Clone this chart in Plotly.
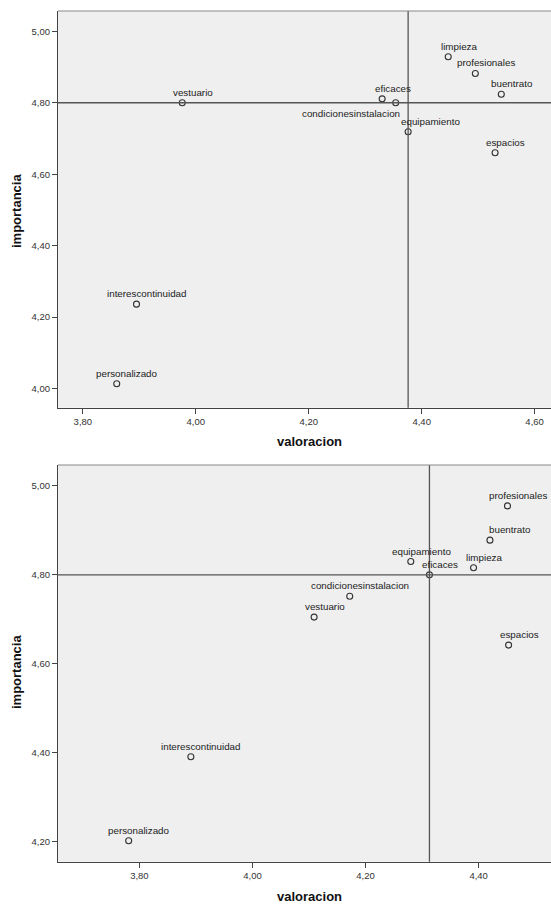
import plotly.graph_objects as go

# ---------------- data ----------------
names = ["vestuario", "eficaces", "condicionesinstalacion", "equipamiento", "limpieza",
         "profesionales", "buentrato", "espacios", "interescontinuidad", "personalizado"]

top_valoracion = [3.976, 4.330, 4.354, 4.376, 4.447, 4.495, 4.541, 4.530, 3.895, 3.860]
top_importancia = [4.800, 4.811, 4.800, 4.719, 4.929, 4.882, 4.824, 4.660, 4.236, 4.013]
top_ref_x = 4.376
top_ref_y = 4.80

bot_valoracion = [4.109, 4.313, 4.172, 4.280, 4.391, 4.451, 4.420, 4.453, 3.891, 3.781]
bot_importancia = [4.705, 4.800, 4.752, 4.830, 4.816, 4.955, 4.878, 4.642, 4.391, 4.202]
bot_ref_x = 4.313
bot_ref_y = 4.80

top_xticks = [3.8, 4.0, 4.2, 4.4, 4.6]
top_yticks = [4.0, 4.2, 4.4, 4.6, 4.8, 5.0]
bot_xticks = [3.8, 4.0, 4.2, 4.4]
bot_yticks = [4.2, 4.4, 4.6, 4.8, 5.0]

x_title = "valoracion"
y_title = "importancia"

# ---------------- style ----------------
W, H = 551, 904
FONT = "Liberation Sans, Arial, sans-serif"
AX = "#444444"
MK = "#333333"

# label placement (pixel offsets) -- default above-right a bit
default_pos = dict(xshift=10.5, yshift=3, xanchor="center", yanchor="bottom")
top_pos = {
    "equipamiento": dict(xshift=22, yshift=3, xanchor="center", yanchor="bottom"),
    "condicionesinstalacion": dict(xshift=6, yshift=-3, xanchor="right", yanchor="top"),
}
bot_pos = {
    "buentrato": dict(xshift=20.5, yshift=3, xanchor="center", yanchor="bottom"),
}

fig = go.Figure()

fig.add_trace(go.Scatter(x=top_valoracion, y=top_importancia, mode="markers",
                         xaxis="x", yaxis="y", showlegend=False, hoverinfo="skip",
                         marker=dict(symbol="circle-open", size=6, color=MK,
                                     line=dict(width=1.1, color=MK))))
fig.add_trace(go.Scatter(x=bot_valoracion, y=bot_importancia, mode="markers",
                         xaxis="x2", yaxis="y2", showlegend=False, hoverinfo="skip",
                         marker=dict(symbol="circle-open", size=6, color=MK,
                                     line=dict(width=1.1, color=MK))))

annotations = []
for nm, xv, yv in zip(names, top_valoracion, top_importancia):
    p = top_pos.get(nm, default_pos)
    annotations.append(dict(x=xv, y=yv, xref="x", yref="y", text=nm, showarrow=False,
                            font=dict(family=FONT, size=9.8, color="#222222"), **p))
for nm, xv, yv in zip(names, bot_valoracion, bot_importancia):
    p = bot_pos.get(nm, default_pos)
    annotations.append(dict(x=xv, y=yv, xref="x2", yref="y2", text=nm, showarrow=False,
                            font=dict(family=FONT, size=9.8, color="#222222"), **p))

title_font = dict(family=FONT, size=13, color="#111111")
# axis titles
annotations += [
    dict(text="<b>%s</b>" % x_title, x=309 / W, y=1 - 442 / H, xref="paper", yref="paper",
         showarrow=False, xanchor="center", yanchor="middle", font=title_font),
    dict(text="<b>%s</b>" % x_title, x=309 / W, y=1 - 896 / H, xref="paper", yref="paper",
         showarrow=False, xanchor="center", yanchor="middle", font=title_font),
    dict(text="<b>%s</b>" % y_title, x=16 / W, y=1 - 211 / H, xref="paper", yref="paper",
         showarrow=False, xanchor="center", yanchor="middle", textangle=-90, font=title_font),
    dict(text="<b>%s</b>" % y_title, x=16 / W, y=1 - 672 / H, xref="paper", yref="paper",
         showarrow=False, xanchor="center", yanchor="middle", textangle=-90, font=title_font),
]

shapes = [
    # reference lines
    dict(type="line", xref="x", yref="y domain", x0=top_ref_x, x1=top_ref_x, y0=0, y1=1,
         line=dict(color="#555555", width=1.3)),
    dict(type="line", xref="x domain", yref="y", x0=0, x1=1, y0=top_ref_y, y1=top_ref_y,
         line=dict(color="#555555", width=1.3)),
    dict(type="line", xref="x2", yref="y2 domain", x0=bot_ref_x, x1=bot_ref_x, y0=0, y1=1,
         line=dict(color="#555555", width=1.3)),
    dict(type="line", xref="x2 domain", yref="y2", x0=0, x1=1, y0=bot_ref_y, y1=bot_ref_y,
         line=dict(color="#555555", width=1.3)),
    # top borders
    dict(type="line", xref="x domain", yref="y domain", x0=0, x1=1, y0=1, y1=1,
         line=dict(color="#888888", width=1)),
    dict(type="line", xref="x2 domain", yref="y2 domain", x0=0, x1=1, y0=1, y1=1,
         line=dict(color="#888888", width=1)),
]

xdom = [58 / W, 1.0]
axis_common = dict(showline=True, linecolor=AX, linewidth=1.2, ticks="outside", ticklen=5,
                   tickcolor=AX, tickwidth=1, showgrid=False, zeroline=False,
                   tickformat=".2f", tickfont=dict(family=FONT, size=9.5, color="#333333"),
                   fixedrange=True)

fig.update_layout(
    width=W, height=H, autosize=False,
    margin=dict(l=0, r=0, t=0, b=0, pad=0),
    paper_bgcolor="white", plot_bgcolor="#efefef",
    separators=",.",
    xaxis=dict(domain=xdom, range=[3.756, 4.629], tickvals=top_xticks, anchor="y", **axis_common),
    yaxis=dict(domain=[1 - 407.7 / H, 1 - 11 / H], range=[3.946, 5.057], tickvals=top_yticks,
               anchor="x", **axis_common),
    xaxis2=dict(domain=xdom, range=[3.656, 4.528], tickvals=bot_xticks, anchor="y2", **axis_common),
    yaxis2=dict(domain=[1 - 861.7 / H, 1 - 465 / H], range=[4.155, 5.047], tickvals=bot_yticks,
                anchor="x2", **axis_common),
    annotations=annotations,
    shapes=shapes,
)

fig.write_html(
    "out.html",
    config={"displayModeBar": False},
    post_script="document.body.style.margin='0';document.body.style.overflow='hidden';",
)
